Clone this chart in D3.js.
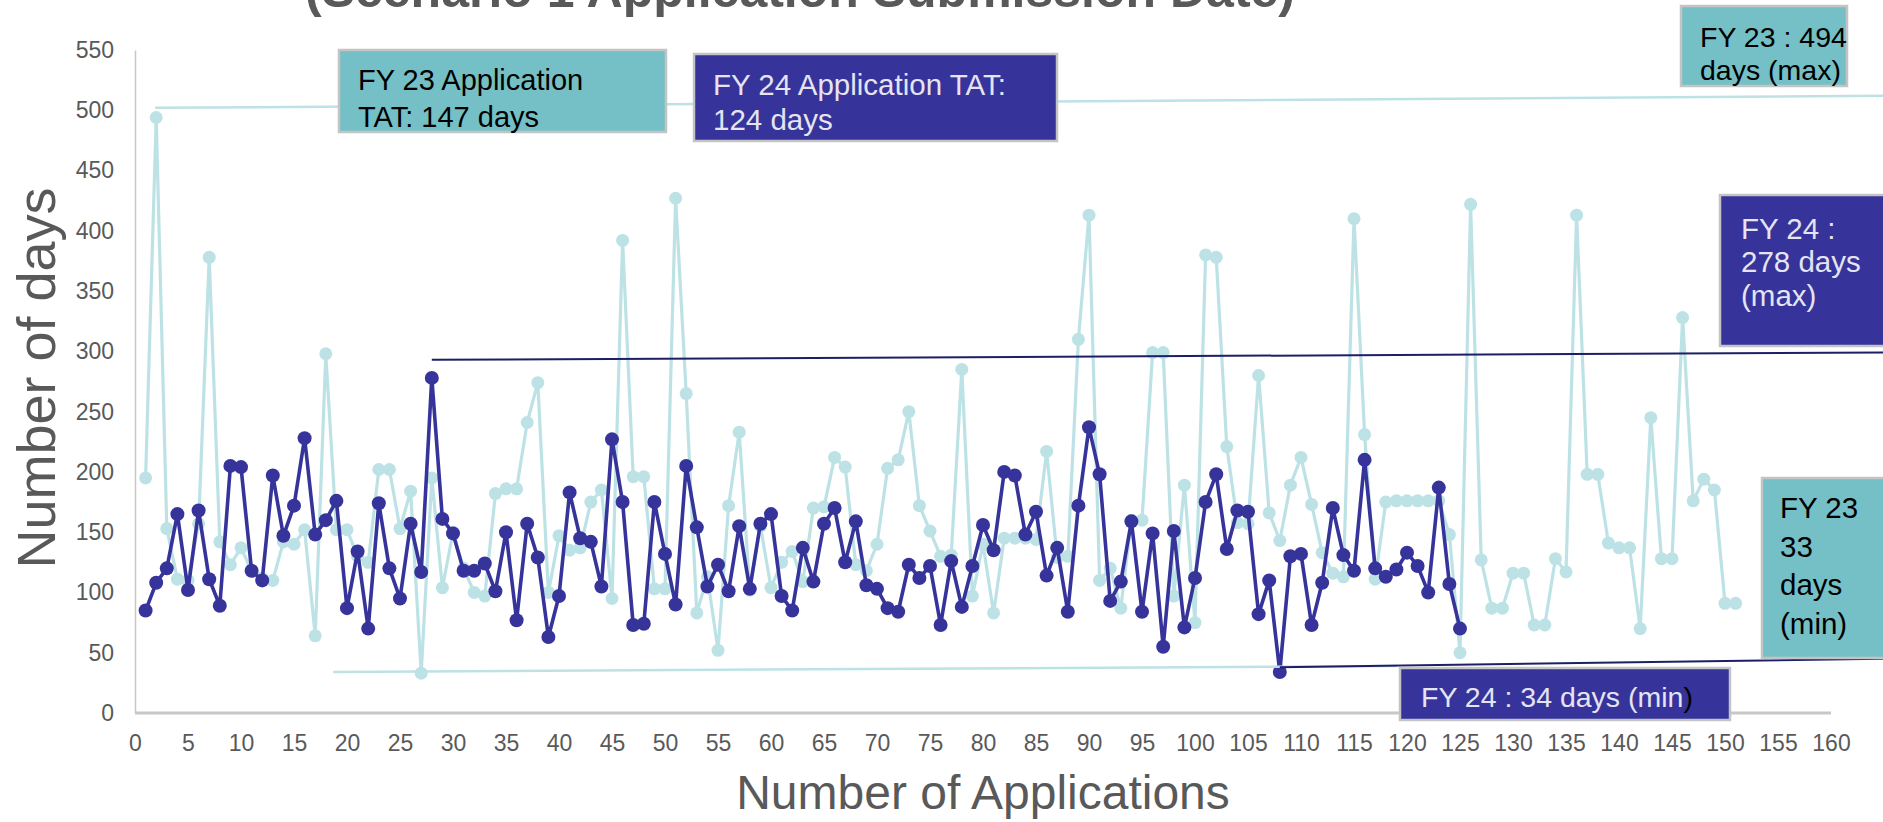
<!DOCTYPE html>
<html>
<head>
<meta charset="utf-8">
<script src="https://cdn.jsdelivr.net/npm/d3@7"></script>
<style>
  body { margin: 0; background: #fff; }
  svg { display: block; font-family: "Liberation Sans", Arial, sans-serif; }
</style>
</head>
<body>
<svg width="1883" height="822"></svg>
<script>
// FY 23 turnaround (days) per application
var fy23 = [195, 494, 153, 111, 110, 157, 378, 142, 123, 137,
            118, 112, 110, 142, 140, 152, 64, 298, 152, 152,
            130, 125, 202, 202, 153, 184, 33, 195, 104, 150,
            120, 100, 97, 182, 186, 186, 241, 274, 100, 147,
            135, 137, 175, 185, 95, 392, 196, 196, 103, 103,
            427, 265, 83, 113, 52, 172, 233, 102, 155, 104,
            125, 134, 109, 170, 171, 212, 204, 123, 118, 140,
            203, 210, 250, 172, 151, 130, 131, 285, 97, 140,
            83, 145, 145, 145, 144, 217, 129, 130, 310, 413,
            110, 120, 87, 160, 160, 299, 299, 97, 189, 75,
            380, 378, 221, 158, 157, 280, 166, 143, 189, 212,
            173, 133, 116, 113, 410, 231, 111, 175, 176, 176,
            176, 176, 176, 148, 50, 422, 127, 87, 87, 116,
            116, 73, 73, 128, 117, 413, 198, 198, 141, 137,
            137, 70, 245, 128, 128, 328, 176, 194, 185, 91, 91];

// FY 24 turnaround (days) per application
var fy24 = [85, 108, 120, 165, 102, 168, 111, 89, 205, 204,
            118, 110, 197, 147, 172, 228, 148, 160, 176, 87,
            134, 70, 174, 120, 95, 157, 117, 278, 161, 149,
            118, 118, 124, 101, 150, 77, 157, 129, 63, 97,
            183, 145, 142, 105, 227, 175, 73, 74, 175, 132,
            90, 205, 154, 105, 123, 101, 155, 103, 157, 165,
            97, 85, 137, 109, 157, 170, 125, 159, 106, 103,
            87, 84, 123, 112, 122, 73, 126, 88, 122, 156,
            135, 200, 197, 148, 167, 114, 137, 84, 172, 237,
            198, 93, 109, 159, 84, 149, 55, 151, 71, 112,
            175, 198, 136, 168, 167, 82, 110, 34, 130, 132,
            73, 108, 170, 131, 118, 210, 120, 113, 119, 133,
            122, 100, 187, 107, 70];

var xTicks = d3.range(0, 161, 5);
var yTicks = d3.range(0, 551, 50);

// callout lines, in data units [x, y]
var fy23MaxLine = [[1.9, 502], [165, 512]];
var fy24MaxLine = [[28, 293], [165, 299]];
var fy23MinLine = [[18.7, 34], [119, 39]];
var fy24MinLine = [[108, 38], [165, 45]];

var svg = d3.select("svg");
var x = d3.scaleLinear().domain([0, 160]).range([135, 1831]);
var y = d3.scaleLinear().domain([0, 550]).range([713, 50]);

var light = "#bde2e6", dark = "#36349a";
var teal = "#74c0c6", navy = "#36339a";

// partly hidden title at the top
svg.append("text")
    .attr("x", 800).attr("y", 7)
    .attr("text-anchor", "middle")
    .attr("font-size", 50).attr("font-weight", "bold")
    .attr("fill", "#595959")
    .text("(Scenario 1 Application Submission Date)");

// axes
var yAxis = svg.append("g")
    .attr("transform", "translate(135,0)")
    .call(d3.axisLeft(y).tickValues(yTicks).tickSize(0).tickPadding(21));
var xAxis = svg.append("g")
    .attr("transform", "translate(0,713)")
    .call(d3.axisBottom(x).tickValues(xTicks).tickSize(0).tickPadding(22));
[yAxis, xAxis].forEach(function (g) {
    g.select(".domain").attr("stroke", "#c8c8c8").attr("stroke-width", 2);
    g.selectAll("text").attr("font-size", 23).attr("fill", "#595959")
        .attr("font-family", "Liberation Sans, Arial, sans-serif");
});
yAxis.select(".domain").attr("stroke-width", 1.5);
xAxis.select(".domain").attr("d", "M135,0H1831").attr("stroke-width", 3);

svg.append("text")
    .attr("transform", "translate(55,378) rotate(-90)")
    .attr("text-anchor", "middle")
    .attr("font-size", 54).attr("fill", "#595959")
    .text("Number of days");
svg.append("text")
    .attr("x", 983).attr("y", 809)
    .attr("text-anchor", "middle")
    .attr("font-size", 48).attr("fill", "#595959")
    .text("Number of Applications");

var line = d3.line()
    .x(function (d, i) { return x(i + 1); })
    .y(function (d) { return y(d); });

function drawSeries(data, color, r, w) {
    svg.append("path")
        .datum(data)
        .attr("fill", "none")
        .attr("stroke", color)
        .attr("stroke-width", w)
        .attr("stroke-linejoin", "round")
        .attr("d", line);
    svg.append("g").selectAll("circle")
        .data(data)
        .enter()
        .append("circle")
        .attr("cx", function (d, i) { return x(i + 1); })
        .attr("cy", function (d) { return y(d); })
        .attr("r", r)
        .attr("fill", color);
}
drawSeries(fy23, light, 6.5, 3.2);
drawSeries(fy24, dark, 7, 3.6);

var seg = d3.line().x(function (d) { return x(d[0]); }).y(function (d) { return y(d[1]); });
function callout(pts, color, w) {
    svg.append("path").datum(pts)
        .attr("fill", "none").attr("stroke", color).attr("stroke-width", w)
        .attr("d", seg);
}
callout(fy23MaxLine, light, 2.5);
callout(fy24MaxLine, "#1e1e66", 2);
callout(fy23MinLine, light, 2.5);
callout(fy24MinLine, "#1e1e66", 2);

function box(x0, y0, w, h, fill, color, size, lines, tx, baselines) {
    svg.append("rect")
        .attr("x", x0).attr("y", y0).attr("width", w).attr("height", h)
        .attr("fill", fill).attr("stroke", "#c4c4c4").attr("stroke-width", 2.5);
    var t = svg.append("text").attr("font-size", size).attr("fill", color);
    lines.forEach(function (s, i) {
        t.append("tspan").attr("x", tx).attr("y", baselines[i]).text(s);
    });
    return t;
}

box(339, 50, 327, 82, teal, "#000", 29, ["FY 23 Application", "TAT: 147  days"], 358, [90, 127]);
box(694, 54, 363, 87, navy, "#e4e4f2", 29.5, ["FY 24 Application TAT:", "124 days"], 713, [95, 130]);
box(1681, 6, 166, 80, teal, "#000", 28.5, ["FY 23 : 494", "days (max)"], 1700, [47, 80]);
box(1720, 195, 165, 151, navy, "#e4e4f2", 29.5, ["FY 24 :", "278 days", "(max)"], 1741, [239, 272, 306]);
box(1762, 478, 123, 180, teal, "#000", 29.5, ["FY 23", "33", "days", "(min)"], 1780, [518, 557, 595, 634]);
var minText = box(1400, 668, 330, 52, navy, "#e4e4f2", 28.5, [], 1421, []);
minText.append("tspan").attr("x", 1421).attr("y", 707).text("FY 24 : 34 days (min");
minText.append("tspan").attr("fill", "#000").text(")");
</script>
</body>
</html>
